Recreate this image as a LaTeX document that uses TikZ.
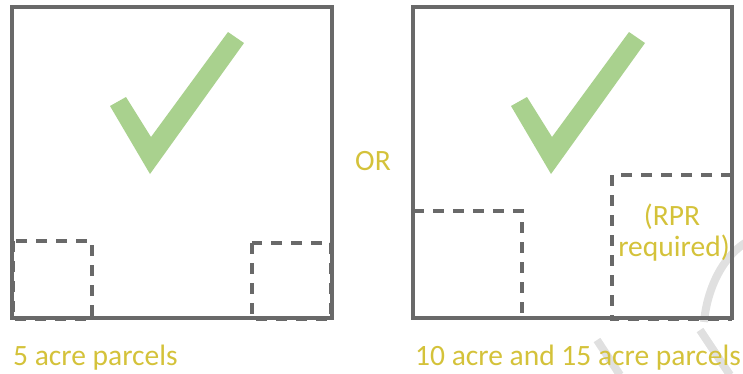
\documentclass[tikz,border=0pt]{standalone}
\usepackage{fontspec}
\setmainfont{Carlito}
\definecolor{framegray}{RGB}{105,105,105}
\definecolor{labelgold}{RGB}{212,194,58}
\definecolor{tickgreen}{RGB}{169,209,142}
\definecolor{wmgray}{RGB}{224,224,224}
\begin{document}
\begin{tikzpicture}[x=1pt,y=-1pt,
  parcel/.style={draw=framegray, line width=3.1pt},
  lot/.style={draw=framegray, line width=3.1pt, dash pattern=on 11pt off 9pt},
  caption/.style={text=labelgold, font=\fontsize{29.5}{31}\selectfont, inner sep=0pt},
  tickmark/.style={fill=tickgreen},
  wm/.style={draw=wmgray, line width=8pt}]
\useasboundingbox (0,0) rectangle (743,373);

% faint background lettering
\draw[wm] (750,240) .. controls (722,255) and (707,290) .. (704,322);
\draw[wm] (597,340) -- (620,375);
\draw[wm] (700,330) -- (730,375);

% left: two 5 acre parcels
\draw[parcel] (12,7) rectangle (332,318);
\draw[lot] (13,241) rectangle (92,319);
\draw[lot] (252,243) rectangle (331,319);
\fill[tickmark] (110,106) -- (126,97) -- (151,137) -- (228,32) -- (244,43) -- (150,174) -- cycle;

% right: 10 acre and 15 acre parcels
\draw[parcel] (413,7) rectangle (732,318);
\draw[lot] (413,211) -- (522,211) -- (522,318);
\draw[lot] (732,175) -- (612,175) -- (612,319) -- (732,319);
\fill[tickmark] (511,106) -- (527,97) -- (552,137) -- (629,32) -- (645,43) -- (551,174) -- cycle;

\node[caption, anchor=base] (rpr) at (672,225) {(RPR};
\node[caption, anchor=base] (req) at (674,256) {required)};
\node[caption, anchor=base] (or) at (373,170) {OR};
\node[caption, anchor=base west] (five) at (13,365) {5 acre parcels};
\node[caption, anchor=base west] (tenfifteen) at (415,365) {10 acre and 15 acre parcels};
\end{tikzpicture}
\end{document}
